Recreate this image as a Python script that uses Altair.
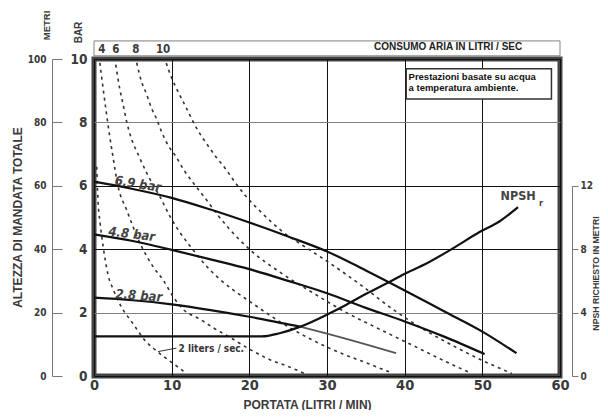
import altair as alt
import pandas as pd

W, H = 466, 317
NARROW = "'Liberation Sans Narrow', 'DejaVu Sans Condensed', 'Arial Narrow', sans-serif"
SANS = "'Liberation Sans', Arial, sans-serif"
INK = "#3a3a3a"

# ---------------- data (flow in l/min, head in bar) ----------------
flow_69 = [0, 5, 10, 15, 20, 25, 30, 35, 40, 45, 50, 54.4]
head_69 = [6.13, 5.9, 5.62, 5.25, 4.84, 4.4, 3.93, 3.33, 2.7, 2.05, 1.4, 0.72]
flow_48 = [0, 5, 10, 15, 20, 25, 30, 35, 40, 45, 50.3]
head_48 = [4.47, 4.26, 3.98, 3.68, 3.37, 3.0, 2.61, 2.15, 1.72, 1.25, 0.69]
flow_28 = [0, 5, 10, 15, 20, 25, 26.5]
head_28 = [2.47, 2.39, 2.26, 2.08, 1.87, 1.63, 1.56]
flow_28_tail = [26.5, 30, 35, 38.9]
head_28_tail = [1.56, 1.34, 1.0, 0.72]

npsh_flow = [0, 21.6, 23.9, 26.5, 29.9, 32.5, 35.1, 38.1, 40.2, 42.8, 46.2, 49.7, 52.2, 54.6]
npsh_m = [2.5, 2.5, 2.7, 3.1, 3.85, 4.5, 5.2, 5.95, 6.5, 7.1, 8.05, 9.1, 9.75, 10.65]

air_2_x = [0.35, 0.5, 0.8, 1.2, 1.8, 2.5, 3.5, 5.0, 6.5, 8.0, 10.0, 11.8]
air_2_y = [6.6, 5.6, 4.8, 4.05, 3.2, 2.72, 2.19, 1.66, 1.14, 0.8, 0.43, 0.1]
air_4_x = [0.75, 1.4, 2.0, 2.4, 3.1, 4.2, 5.9, 7.6, 8.9, 10.2, 11.5, 13.6, 15.5, 17.5, 20.0, 22.6, 25.2, 27.1]
air_4_y = [9.88, 8.65, 7.6, 6.98, 5.98, 5.24, 4.2, 3.45, 3.03, 2.5, 2.1, 1.8, 1.5, 1.22, 0.85, 0.52, 0.28, 0.08]
air_6_x = [2.8, 3.3, 3.75, 4.2, 4.8, 5.7, 6.8, 7.4, 8.5, 9.75, 11.0, 12.3, 13.4, 14.5, 16.2, 17.9, 20.0, 24.0, 28.0, 32.0, 35.0, 38.3]
air_6_y = [9.82, 9.08, 8.56, 8.03, 7.5, 6.98, 6.4, 6.12, 5.65, 5.05, 4.55, 4.12, 3.78, 3.46, 3.05, 2.72, 2.36, 1.7, 1.15, 0.7, 0.42, 0.1]
air_8_x = [5.5, 6.1, 6.75, 7.4, 8.0, 8.7, 9.5, 10.4, 11.7, 12.75, 14.5, 15.8, 17.5, 20.0, 23.9, 28.0, 32.5, 37.0, 41.0, 44.5, 48.5]
air_8_y = [9.88, 9.3, 8.9, 8.45, 8.14, 7.71, 7.29, 6.98, 6.45, 6.1, 5.55, 5.12, 4.62, 4.0, 3.28, 2.65, 2.0, 1.45, 0.97, 0.55, 0.09]
air_10_x = [9.3, 10.0, 10.8, 11.9, 13.2, 14.3, 15.5, 17.05, 18.1, 19.6, 21.8, 24.3, 27.0, 30.0, 34.2, 38.5, 42.8, 46.5, 50.1, 53.8]
air_10_y = [9.87, 9.4, 8.98, 8.45, 7.82, 7.4, 6.98, 6.5, 6.13, 5.66, 5.1, 4.55, 4.1, 3.62, 2.9, 2.1, 1.42, 0.92, 0.48, 0.08]

air_labels = ["4", "6", "8", "10"]
air_label_x = [1.0, 2.8, 5.4, 8.9]

x_ticks = [0, 10, 20, 30, 40, 50, 60]
bar_ticks = [0, 2, 4, 6, 8, 10]
metri_ticks = [0, 20, 40, 60, 80, 100]
npsh_ticks = [0, 4, 8, 12]

# ---------------- frames ----------------
def curve(xs, ys, name):
    return pd.DataFrame({"x": xs, "y": ys, "s": name})

solid_df = pd.concat([curve(flow_69, head_69, "6.9"), curve(flow_48, head_48, "4.8"),
                      curve(flow_28, head_28, "2.8")])
tail_df = curve(flow_28_tail, head_28_tail, "2.8b")
air_df = pd.concat([curve(air_2_x, air_2_y, "2"), curve(air_4_x, air_4_y, "4"),
                    curve(air_6_x, air_6_y, "6"), curve(air_8_x, air_8_y, "8"),
                    curve(air_10_x, air_10_y, "10")])
npsh_df = pd.DataFrame({"x": npsh_flow, "n": npsh_m})

X = alt.X("x:Q", scale=alt.Scale(domain=[0, 60], nice=False, zero=False),
          axis=alt.Axis(values=x_ticks, grid=True, gridColor="#111", gridWidth=1,
                        domain=False, ticks=False, tickSize=0, labelFlush=False,
                        labelFont=NARROW, labelFontSize=14.5, labelFontWeight="bold",
                        labelColor=INK, labelPadding=2,
                        title="PORTATA (LITRI / MIN)", titleFont=SANS, titleFontSize=12,
                        titleFontWeight="bold", titleColor=INK, titleX=213, titleY=32,
                        titleAlign="center", titleBaseline="alphabetic"))
Y = alt.Y("y:Q", scale=alt.Scale(domain=[0, 10], nice=False),
          axis=alt.Axis(orient="left", values=bar_ticks, grid=True,
                        gridColor={"condition": {"test": "datum.value === 2 || datum.value === 8",
                                                 "value": "#808080"}, "value": "#111"},
                        gridWidth=1.1, domain=False, ticks=False, tickSize=0,
                        labelFont=NARROW, labelFontSize=13.5, labelFontWeight="bold",
                        labelColor=INK, labelPadding=7, labelBaseline="middle",
                        title="BAR", titleFont=SANS, titleFontSize=10, titleFontWeight="bold",
                        titleColor=INK, titleAngle=270, titleX=-15.5, titleY=-27,
                        titleAlign="center", titleBaseline="middle"))

solid = alt.Chart(solid_df).mark_line(color="#111", strokeWidth=2.2, interpolate="monotone").encode(
    X, Y, detail="s:N")
tail = alt.Chart(tail_df).mark_line(color="#555", strokeWidth=1.8, interpolate="monotone").encode(X, Y)
dashed = alt.Chart(air_df).mark_line(color="#333", strokeWidth=1.6, strokeDash=[3, 4],
                                     interpolate="monotone").encode(X, Y, detail="s:N")

# boxes
top_box = alt.Chart(pd.DataFrame({"x": [0], "x2": [60], "y": [10.1], "y2": [10.57]})).mark_rect(
    fill="white", stroke="#808080", strokeWidth=1).encode(X, Y, x2="x2:Q", y2="y2:Q")
note_box = alt.Chart(pd.DataFrame({"x": [40.2], "x2": [58.9], "y": [8.74], "y2": [9.69]})).mark_rect(
    fill="white", stroke="#333", strokeWidth=1.5).encode(X, Y, x2="x2:Q", y2="y2:Q")

def text_layer(xs, ys, texts, **kw):
    df = pd.DataFrame({"x": xs, "y": ys, "t": texts})
    return alt.Chart(df).mark_text(**kw).encode(X, Y, text="t:N")

consumo = text_layer([45.6], [10.37], ["CONSUMO ARIA IN LITRI / SEC"], font=SANS, fontSize=10,
                     fontWeight="bold", color="#222", baseline="middle")
air_lab = text_layer(air_label_x, [10.27] * 4, air_labels, font=NARROW, fontSize=11.5,
                     fontWeight="bold", color=INK, baseline="middle")
note = text_layer([40.5], [9.6], ["Prestazioni basate su acqua\na temperatura ambiente."],
                  font=SANS, fontSize=9.5, fontWeight="bold", color="#111", align="left",
                  baseline="top", lineBreak="\n", lineHeight=11)
lab69 = text_layer([5.65], [6.05], ["6.9  bar"], font=NARROW, fontSize=13, fontWeight="bold",
                   fontStyle="italic", color="#444", angle=9, baseline="middle")
lab48 = text_layer([4.86], [4.47], ["4.8  bar"], font=NARROW, fontSize=13, fontWeight="bold",
                   fontStyle="italic", color="#444", angle=7, baseline="middle")
lab28 = text_layer([5.77], [2.53], ["2.8  bar"], font=NARROW, fontSize=13, fontWeight="bold",
                   fontStyle="italic", color="#444", angle=4, baseline="middle")
lab2 = text_layer([15.1], [0.84], ["2 liters / sec."], font=NARROW, fontSize=10, fontWeight="bold",
                  color="#333", baseline="middle")
leader = alt.Chart(pd.DataFrame({"x": [8.25, 10.62], "y": [0.77, 0.88]})).mark_line(
    color="#333", strokeWidth=1).encode(X, Y)
npsh_lab = text_layer([54.6], [5.68], ["NPSH"], font=NARROW, fontSize=12.5, fontWeight="bold",
                      color="#444", baseline="middle")
npsh_sub = text_layer([57.55], [5.45], ["r"], font=NARROW, fontSize=9, fontWeight="bold",
                      color="#444", baseline="middle")

main = alt.layer(dashed, solid, tail, leader, top_box, note_box, consumo, air_lab, note,
                 lab69, lab48, lab28, lab2, npsh_lab, npsh_sub)

# METRI axis (left, 0-100)
metri = alt.Chart(pd.DataFrame({"m": metri_ticks})).mark_point(opacity=0).encode(
    y=alt.Y("m:Q", scale=alt.Scale(domain=[0, 100], nice=False),
            axis=alt.Axis(orient="right", offset=-508, values=metri_ticks, grid=False,
                          domain=True, domainColor="#777", domainWidth=1, ticks=True,
                          tickColor="#777", tickSize=10, tickWidth=1,
                          labelFont=NARROW, labelFontSize=10, labelFontWeight="bold",
                          labelColor=INK, labelAlign="right", labelPadding=-16,
                          labelBaseline="middle",
                          title="METRI", titleFont=SANS, titleFontSize=9.5, titleFontWeight="bold",
                          titleColor=INK, titleAngle=270, titleX=-5.5, titleY=-34,
                          titleAlign="center", titleBaseline="middle")))

# Title axis on far left
altezza = alt.Chart(pd.DataFrame({"m": metri_ticks})).mark_point(opacity=0).encode(
    y=alt.Y("m:Q", scale=alt.Scale(domain=[0, 100], nice=False),
            axis=alt.Axis(orient="left", grid=False, domain=False, ticks=False, labels=False,
                          title="ALTEZZA DI MANDATA TOTALE", titleFont=SANS, titleFontSize=12,
                          titleFontWeight="bold", titleColor=INK, titleAngle=270,
                          titleX=-77, titleY=158, titleAlign="center", titleBaseline="middle")))

# NPSH curve and right axis
npsh = alt.Chart(npsh_df).mark_line(color="#111", strokeWidth=2.2, interpolate="monotone").encode(
    X,
    alt.Y("n:Q", scale=alt.Scale(domain=[0, 12], range=[H, H * 0.4], nice=False),
          axis=alt.Axis(orient="right", offset=12, values=npsh_ticks, grid=False,
                        domain=True, domainColor="#777", domainWidth=1, ticks=True,
                        tickColor="#777", tickSize=6, tickWidth=1,
                        labelFont=NARROW, labelFontSize=10, labelFontWeight="bold",
                        labelColor=INK, labelPadding=2, labelBaseline="middle",
                        title="NPSH RICHIESTO IN METRI", titleFont=SANS, titleFontSize=8.7,
                        titleFontWeight="bold", titleColor=INK, titleAngle=270,
                        titleX=23.5, titleY=214, titleAlign="center", titleBaseline="middle")))

chart = alt.layer(main, metri, altezza, npsh).resolve_scale(y="independent").properties(
    width=W, height=H,
    autosize=alt.AutoSizeParams(type="none"),
    padding={"left": 86, "top": 51, "right": 40, "bottom": 34},
).configure_view(stroke="#444", strokeWidth=5)

chart.save("out.html", embed_options={"renderer": "svg", "actions": False})
